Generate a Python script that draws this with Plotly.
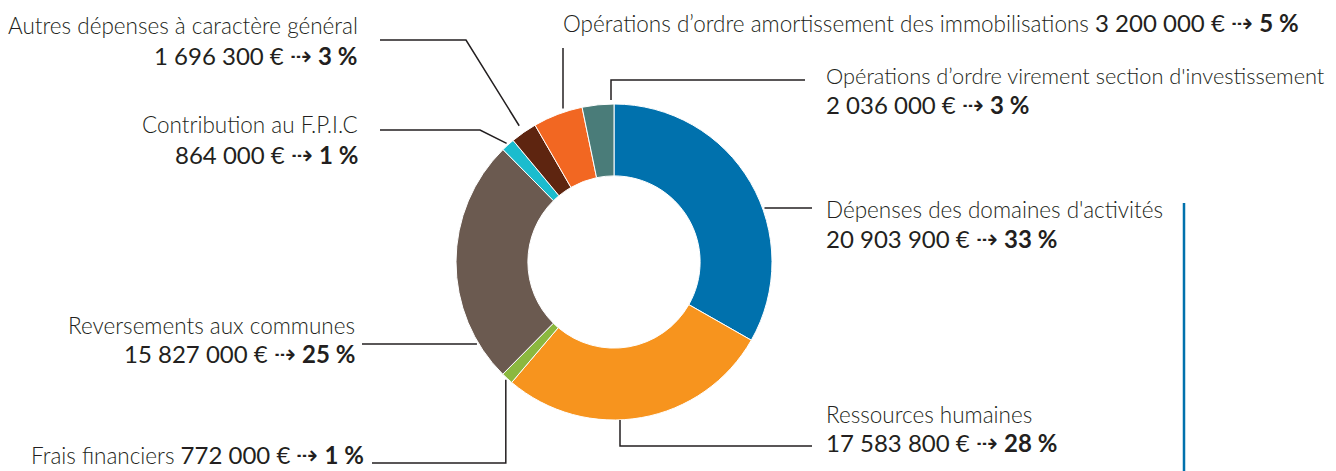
import math
import plotly.graph_objects as go

# ---------------- data ----------------
labels = [
    "Dépenses des domaines d'activités",
    "Ressources humaines",
    "Frais financiers",
    "Reversements aux communes",
    "Contribution au F.P.I.C",
    "Autres dépenses à caractère général",
    "Opérations d’ordre amortissement des immobilisations",
    "Opérations d’ordre virement section d'investissement",
]
values = [20903900, 17583800, 772000, 15827000, 864000, 1696300, 3200000, 2036000]
value_text = ["20 903 900 €", "17 583 800 €", "772 000 €", "15 827 000 €",
              "864 000 €", "1 696 300 €", "3 200 000 €", "2 036 000 €"]
pct_text = ["33 %", "28 %", "1 %", "25 %", "1 %", "3 %", "5 %", "3 %"]
colors = ["#0071AD", "#F7941E", "#8BB83F", "#6B5A50", "#1ABCCE", "#5E2510", "#F26722", "#4A7C79"]

# ---------------- layout geometry ----------------
W, H = 1336, 471
CX, CY, R = 614, 262, 158
HOLE = 0.545
FONT = "Lato"
INK = "#231F20"
ARROW = "⇢"
LABEL_SIZE = 22.5
VALUE_SIZE = 24


def px(x):
    return x / W


def py(y):
    return 1 - y / H


total = sum(values)
mids = []
acc = 0
for v in values:
    mids.append((acc + v / 2) / total * 2 * math.pi)
    acc += v


def polar(i, r):
    a = mids[i]
    return CX + r * math.sin(a), CY - r * math.cos(a)


fig = go.Figure(go.Pie(
    labels=labels, values=values, sort=False, direction="clockwise", rotation=0,
    hole=HOLE, marker=dict(colors=colors, line=dict(color="white", width=1)),
    textinfo="none", hoverinfo="none", showlegend=False,
    domain=dict(x=[px(CX - R), px(CX + R)], y=[py(CY + R), py(CY - R)]),
))

shapes = []


def path(points, color=INK, width=1.5):
    d = "M " + " L ".join(f"{px(x)},{py(y)}" for x, y in points)
    shapes.append(dict(type="path", path=d, xref="paper", yref="paper",
                       line=dict(color=color, width=width)))


def edge_x(y, side):
    return CX + side * math.sqrt(R * R - (y - CY) ** 2)


def edge_y(x, side):
    return CY + side * math.sqrt(R * R - (x - CX) ** 2)


# leader lines
path([(380, 40), (466, 40), polar(5, R + 8)])                 # Autres dépenses
path([(380, 130), (480, 130), polar(4, R + 2)])               # FPIC
path([(362, 344), (edge_x(344, -1) - 2, 344)])                # Reversements
gx, gy = polar(2, R + 2)
path([(372, 463), (gx, 463), (gx, gy)])                        # Frais financiers
path([(620, edge_y(620, 1)), (620, 446), (812, 446)])          # Ressources humaines
path([(edge_x(208, 1) + 2, 208), (812, 208)])                  # Dépenses domaines
path([(563, 48), (563, edge_y(563, -1) - 4)])                  # Amortissement
path([(611, edge_y(611, -1) - 4), (611, 80), (805, 80)])       # Virement
# blue vertical rule
path([(1184, 203), (1184, 471)], color="#0071AD", width=2.5)

ann = []


def text(x, y, s, anchor, size=VALUE_SIZE, weight=400):
    ann.append(dict(x=px(x), y=py(y), xref="paper", yref="paper", text=s,
                    showarrow=False, xanchor=anchor, yanchor="middle",
                    font=dict(family=FONT, size=size, color=INK, weight=weight)))


def val_line(i):
    return (f"{value_text[i]} <span style='font-size:26px;font-weight:300'>{ARROW}</span> "
            f"<b>{pct_text[i]}</b>")


def light(s):
    return f"<span style='font-weight:300;font-size:{LABEL_SIZE}px'>{s}</span>"


# left side (right-aligned)
text(360, 26, labels[5], "right", size=LABEL_SIZE, weight=300)
text(360, 55, val_line(5), "right")
text(360, 125, labels[4], "right", size=LABEL_SIZE, weight=300)
text(360, 154, val_line(4), "right")
text(357, 325, labels[3], "right", size=LABEL_SIZE, weight=300)
text(357, 353, val_line(3), "right")
text(366, 454, light(labels[2] + " ") + val_line(2), "right")

# right side (left-aligned)
text(561, 22, light(labels[6] + " ") + val_line(6), "left")
text(824, 76, labels[7], "left", size=21.8, weight=300)
text(824, 104, val_line(7), "left")
text(824, 209, labels[0], "left", size=LABEL_SIZE, weight=300)
text(824, 238, val_line(0), "left")
text(824, 414, labels[1], "left", size=LABEL_SIZE, weight=300)
text(824, 442, val_line(1), "left")

fig.update_layout(width=W, height=H, margin=dict(l=0, r=0, t=0, b=0),
                  paper_bgcolor="white", plot_bgcolor="white",
                  shapes=shapes, annotations=ann)
fig.write_html("out.html")
